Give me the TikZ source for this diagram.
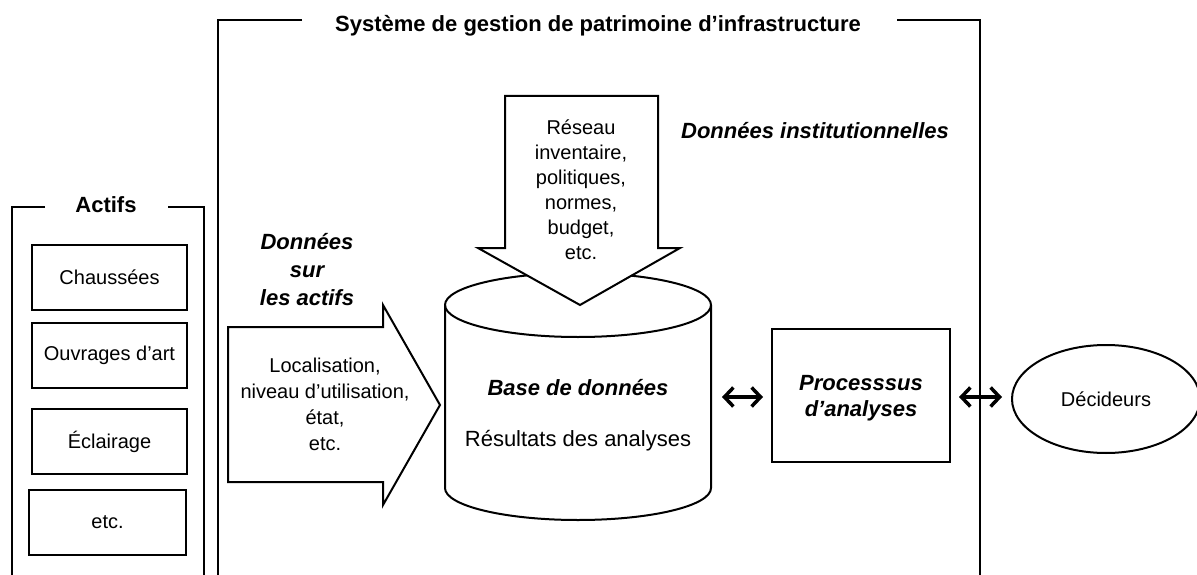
\documentclass[tikz,border=0pt]{standalone}
\usepackage{fontspec}
\setmainfont{Liberation Sans}
\usetikzlibrary{arrows.meta, positioning, shapes.geometric}

\begin{document}
\begin{tikzpicture}[x=1pt, y=1pt, line width=2pt,
	every node/.style={font=\fontsize{20}{26}\selectfont, align=center},
	actif/.style={draw, minimum width=155, minimum height=65, inner sep=0},
	titre/.style={font=\fontsize{22}{28}\selectfont\bfseries},
	titreit/.style={font=\fontsize{22}{28}\selectfont\bfseries\itshape},
	dbl/.style={{Straight Barb[length=9pt,width=19pt]}-{Straight Barb[length=9pt,width=19pt]}, line width=3.5pt}]
	\useasboundingbox (0,0) rectangle (1197,-575);

	% cadres
	\draw (302,-20) -- (218,-20) -- (218,-580);
	\draw (897,-20) -- (980,-20) -- (980,-580);
	\node[titre] (sys) at (598,-26) {Système de gestion de patrimoine d’infrastructure};

	\draw (45,-207) -- (12,-207) -- (12,-580);
	\draw (168,-207) -- (204,-207) -- (204,-580);
	\node[titre] (actifs) at (106,-205) {Actifs};

	\node[actif] (chau) at (109.5,-277.5) {Chaussées};
	\node[actif, below=11pt of chau] (ouv) {Ouvrages d’art};
	\node[actif, below=19pt of ouv] (ecl) {Éclairage};
	\node[actif, below=14pt of ecl, xshift=-2pt, minimum width=157] (etc) {etc.};

	% base de donnees
	\draw[fill=white] (445,-305) -- (445,-488) arc[start angle=180, end angle=360, x radius=133, y radius=32]
		-- (711,-305) arc[start angle=0, end angle=180, x radius=133, y radius=32] -- cycle;
	\draw (445,-305) arc[start angle=180, end angle=360, x radius=133, y radius=32];
	\node[titreit] (db) at (578,-388) {Base de données};
	\node[font=\fontsize{22}{28}\selectfont] (res) at (578,-441) {Résultats des analyses};
	\coordinate (dbe) at (711,-397);

	% fleches de donnees
	\draw[fill=white] (228,-327) -- (383,-327) -- (383,-305) -- (440,-405) -- (383,-505) -- (383,-482) -- (228,-482) -- cycle;
	\node (loc) at (325,-404) {Localisation,\\niveau d’utilisation,\\état,\\etc.};
	\node[titreit] (dact) at (307,-270) {Données\\sur\\les actifs};

	\draw[fill=white] (505,-96) -- (658,-96) -- (658,-248) -- (680,-248) -- (580,-305) -- (478,-248) -- (505,-248) -- cycle;
	\node[font=\fontsize{20}{25}\selectfont] (inst) at (581,-190) {Réseau\\inventaire,\\politiques,\\normes,\\budget,\\etc.};
	\node[titreit] (dinst) at (815,-131) {Données institutionnelles};

	\node[draw, minimum width=178, minimum height=133, titreit, font=\fontsize{22}{26}\selectfont\bfseries\itshape, text depth=0pt] (proc) at (861,-395.5) {Processsus\\d’analyses};
	\node[draw, ellipse, minimum width=188, minimum height=108] (dec) at (1106,-399) {Décideurs};

	\draw[dbl, shorten <=11pt, shorten >=8pt] (dbe) -- (proc.west |- dbe);
	\draw[dbl, shorten <=8pt, shorten >=9pt] (proc.east |- dbe) -- (dec.west |- dbe);
\end{tikzpicture}
\end{document}
